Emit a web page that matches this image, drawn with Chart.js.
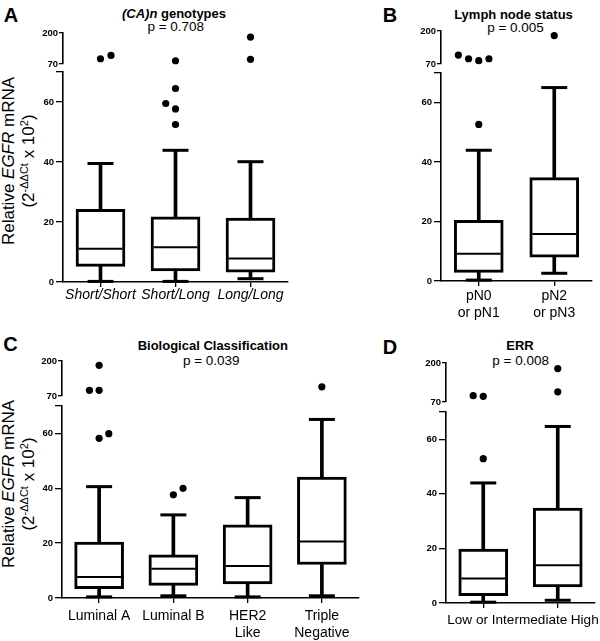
<!DOCTYPE html>
<html>
<head>
<meta charset="utf-8">
<script src="https://cdn.jsdelivr.net/npm/chart.js"></script>
<style>
html,body{margin:0;padding:0;background:#fff;}
body{width:600px;height:641px;position:relative;overflow:hidden;font-family:"Liberation Sans",Arial,Helvetica,sans-serif;color:#000;}
canvas{position:absolute;}
.t{position:absolute;white-space:nowrap;transform:translate(-50%,-50%);line-height:1;}
.letter{font-weight:bold;font-size:20px;}
.title{font-weight:bold;font-size:13px;}
.p{font-size:13.5px;}
.yt{position:absolute;white-space:nowrap;font-size:17px;line-height:20px;text-align:center;transform:translate(-50%,-50%) rotate(-90deg);}
.yt sup{font-size:11px;vertical-align:6px;line-height:0;}
</style>
</head>
<body>
<div class="t letter" style="left:11px;top:15px">A</div>
<div class="t letter" style="left:390px;top:14.5px">B</div>
<div class="t letter" style="left:10.5px;top:344px">C</div>
<div class="t letter" style="left:390px;top:346.5px">D</div>

<div class="t title" style="left:174px;top:12.5px"><i>(CA)n</i> genotypes</div>
<div class="t p" style="left:175.8px;top:26.5px">p = 0.708</div>
<div class="t title" style="left:513.5px;top:13.7px">Lymph node status</div>
<div class="t p" style="left:515.5px;top:27.8px">p = 0.005</div>
<div class="t title" style="left:212.8px;top:345.3px">Biological Classification</div>
<div class="t p" style="left:211.3px;top:360.8px">p = 0.039</div>
<div class="t title" style="left:520px;top:345.3px">ERR</div>
<div class="t p" style="left:520.7px;top:360.8px">p = 0.008</div>

<div class="yt" style="left:18.5px;top:161px">Relative <i>EGFR</i> mRNA<br>(2<sup>-ΔΔCt</sup> x 10<sup>2</sup>)</div>
<div class="yt" style="left:18.5px;top:484px">Relative <i>EGFR</i> mRNA<br>(2<sup>-ΔΔCt</sup> x 10<sup>2</sup>)</div>

<script>
// ---------------- DATA ----------------
const yTicksLow = [0, 20, 40, 60];
const yTicksUp = [70, 200];
const BREAK = 70;
const TOP = 200;

// Panel A: (CA)n genotypes
const labelsA = ['Short/Short', 'Short/Long', 'Long/Long'];
const minA = [0.2, 0.2, 1.1];
const q1A  = [5.2, 3.7, 3.3];
const medA = [11.1, 11.6, 7.8];
const q3A  = [24.2, 21.7, 21.3];
const maxA = [39.5, 43.9, 40.1];
const outA = [[92, 106], [64.5, 59.5, 57.7, 52.5, 83.7], [183, 89.5]];
const jitA = [[0, 0.14], [0, -0.13, 0, 0, 0], [0, 0]];

// Panel B: Lymph node status
const labelsB = [['pN0', 'or pN1'], ['pN2', 'or pN3']];
const minB = [0.3, 2.6];
const q1B  = [2.9, 8.0];
const medB = [9.2, 15.8];
const q3B  = [20.4, 34.8];
const maxB = [44.0, 65.1];
const outB = [[52.7, 105, 90.7, 83, 90.7], [182]];
const jitB = [[0, -0.27, -0.135, 0, 0.135], [0]];

// Panel C: Biological Classification
const labelsC = ['Luminal A', 'Luminal B', ['HER2', 'Like'], ['Triple', 'Negative']];
const minC = [0.4, 0.8, 0.4, 0.8];
const q1C  = [3.4, 4.6, 5.1, 12.2];
const medC = [7.7, 10.7, 11.7, 20.6];
const q3C  = [20.4, 15.7, 26.7, 44.1];
const maxC = [40.6, 30.3, 36.6, 65.1];
const outC = [[58.2, 59.9, 184, 91, 91], [37.6, 40], [], [104]];
const jitC = [[0, 0.13, 0, -0.13, 0], [0, 0.13], [], [0]];

// Panel D: ERR
const labelsD = ['Low or Intermediate', 'High'];
const minD = [0.3, 1.0];
const q1D  = [2.7, 5.9];
const medD = [9.0, 13.8];
const q3D  = [19.8, 34.8];
const maxD = [44.0, 64.7];
const outD = [[52.9, 91, 89], [181.5, 104]];
const jitD = [[0, -0.135, 0], [0, 0]];

// ---------------- LAYOUT ----------------
const FONT = '"Liberation Sans", Arial, Helvetica, sans-serif';
const W = 48, PT = 8, PR = 12, XH = 48, TL = 5;

const panels = [
  {labels: labelsA, min: minA, q1: q1A, med: medA, q3: q3A, max: maxA, out: outA, jit: jitA,
   ax: 63, rx: 288, up: [33, 64], low: [72, 282], xpad: 0, shifts: [0, 0, 0], fs: 14, italic: true},
  {labels: labelsB, min: minB, q1: q1B, med: medB, q3: q3B, max: maxB, out: outB, jit: jitB,
   ax: 441, rx: 592, up: [31, 64], low: [73, 281], xpad: 2, shifts: [0, 0], fs: 14},
  {labels: labelsC, min: minC, q1: q1C, med: medC, q3: q3C, max: maxC, out: outC, jit: jitC,
   ax: 62, rx: 359, up: [361, 396], low: [406, 598], xpad: 5, shifts: [0, 0, 0, 0], fs: 14},
  {labels: labelsD, min: minD, q1: q1D, med: medD, q3: q3D, max: maxD, out: outD, jit: jitD,
   ax: 446, rx: 595, up: [363, 402], low: [412, 603], xpad: 4, shifts: [24, 27], fs: 13.6}
];

function mk(left, top, w, h) {
  const c = document.createElement('canvas');
  c.width = w; c.height = h;
  c.style.left = left + 'px'; c.style.top = top + 'px';
  c.style.width = w + 'px'; c.style.height = h + 'px';
  document.body.appendChild(c);
  return c;
}

function yScale(min, max, ticks, tl, pad, hidden) {
  return {
    type: 'linear', min: min, max: max,
    afterBuildTicks: s => { s.ticks = ticks.map(v => ({value: v})); },
    afterFit: s => { s.width = W; },
    grid: {display: true, drawOnChartArea: false, drawTicks: true, tickLength: tl, color: '#000', lineWidth: 1.3},
    border: {display: true, color: '#000', width: 1.6},
    ticks: {padding: pad, color: '#000', autoSkip: false,
            font: {family: FONT, size: 9.5, weight: 'bold'},
            callback: v => (hidden.includes(v) ? '' : String(v))}
  };
}

const common = {
  animation: false, responsive: false, maintainAspectRatio: false, events: [],
  plugins: {legend: {display: false}, tooltip: {enabled: false}, title: {display: false}}
};

panels.forEach(p => {
  const n = p.labels.length;
  const left = p.ax - W;
  const cw = p.rx - p.ax + W + PR;
  const [u200, u70] = p.up;
  const [l70, l0] = p.low;
  const catW = (p.rx - p.ax) / n;

  const hi = [], lo = [];
  p.out.forEach((arr, i) => arr.forEach((v, j) => {
    const pt = {x: i + p.jit[i][j], y: v};
    (v > BREAK ? hi : lo).push(pt);
  }));

  const xHidden = {type: 'linear', display: false, min: -0.5, max: n - 0.5, offset: false};

  // upper segment (70 - 200)
  const cu = mk(left, u200 - PT, cw, (u70 - u200) + 2 * PT);
  new Chart(cu, {
    type: 'scatter',
    data: {datasets: [{
      data: hi, pointStyle: 'circle', pointRadius: 3.6, pointBackgroundColor: '#000',
      pointBorderWidth: 0, clip: false
    }]},
    options: Object.assign({}, common, {
      layout: {autoPadding: false, padding: {top: PT, right: PR, bottom: PT, left: 0}},
      scales: {x: xHidden, y: yScale(BREAK, TOP, yTicksUp, 4, 1, [])}
    })
  });

  // lower segment (0 - 70)
  const scales = {
    x: {
      type: 'linear', position: 'bottom', weight: 0, min: -0.5, max: n - 0.5, offset: false,
      afterBuildTicks: s => { s.ticks = p.labels.map((_, i) => ({value: i})); },
      afterFit: s => { s.height = TL; },
      grid: {display: true, drawOnChartArea: false, drawTicks: true, tickLength: TL, color: '#000', lineWidth: 1.3, offset: false},
      border: {display: true, color: '#000', width: 1.6},
      ticks: {display: false}
    },
    // label axis: same range, label positions may be nudged horizontally as in the original
    xl: {
      type: 'linear', position: 'bottom', weight: 1, axis: 'x',
      min: -0.5, max: n - 0.5, offset: false,
      afterBuildTicks: sc => { sc.ticks = p.labels.map((_, i) => ({value: i + p.shifts[i] / catW})); },
      afterFit: sc => { sc.height = XH - TL; },
      grid: {display: false, drawTicks: false},
      border: {display: false},
      ticks: {autoSkip: false, maxRotation: 0, minRotation: 0, padding: p.xpad,
              color: '#000', font: {family: FONT, size: p.fs, style: p.italic ? 'italic' : 'normal'},
              callback: (v, idx) => p.labels[idx]}
    },
    y: yScale(0, BREAK, yTicksLow.concat([BREAK]), 7, 2, [BREAK])
  };

  const cl = mk(left, l70 - PT, cw, (l0 - l70) + PT + XH);
  new Chart(cl, {
    type: 'bar',
    data: {datasets: [
      {type: 'bar', order: 5, grouped: false, barThickness: 3, backgroundColor: '#000', borderWidth: 0,
       data: p.min.map((v, i) => ({x: i, y: [v, p.q1[i]]}))},
      {type: 'bar', order: 5, grouped: false, barThickness: 3, backgroundColor: '#000', borderWidth: 0,
       data: p.max.map((v, i) => ({x: i, y: [p.q3[i], v]}))},
      {type: 'bar', order: 4, grouped: false, barThickness: 49, backgroundColor: '#fff',
       borderColor: '#000', borderWidth: 3, borderSkipped: false,
       data: p.q1.map((v, i) => ({x: i, y: [v, p.q3[i]]}))},
      {type: 'scatter', order: 2, pointStyle: 'line', pointRadius: 13, pointBorderWidth: 3,
       pointBorderColor: '#000', clip: false,
       data: p.min.map((v, i) => ({x: i, y: v})).concat(p.max.map((v, i) => ({x: i, y: v})))},
      {type: 'scatter', order: 1, pointStyle: 'line', pointRadius: 22, pointBorderWidth: 2,
       pointBorderColor: '#000', clip: false,
       data: p.med.map((v, i) => ({x: i, y: v}))},
      {type: 'scatter', order: 0, pointStyle: 'circle', pointRadius: 3.6, pointBackgroundColor: '#000',
       pointBorderWidth: 0, clip: false, data: lo}
    ]},
    options: Object.assign({}, common, {
      layout: {autoPadding: false, padding: {top: PT, right: PR, bottom: 0, left: 0}},
      scales: scales
    })
  });
});
</script>
</body>
</html>
